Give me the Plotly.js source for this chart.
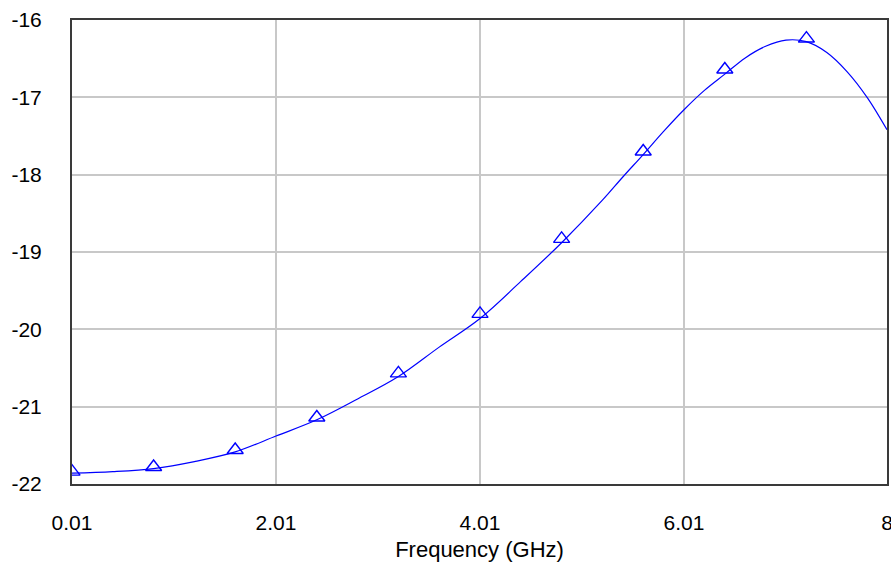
<!DOCTYPE html>
<html>
<head>
<meta charset="utf-8">
<script src="https://cdn.plot.ly/plotly-3.0.1.min.js"></script>
<style>html,body{margin:0;padding:0;background:#fff;}#chart{width:891px;height:562px;}</style>
</head>
<body>
<div id="chart"></div>
<script>
// Curve samples (GHz, dB)
const freq = [0.01, 0.41, 0.81, 1.21, 1.61, 2.01, 2.41, 2.81, 3.21, 3.61, 4.01, 4.41, 4.81, 5.21, 5.41, 5.61, 5.81, 6.01, 6.21, 6.41, 6.61, 6.81, 7.01, 7.21, 7.41, 7.61, 7.81, 8.0];
const s21 = [-21.86, -21.84, -21.80, -21.71, -21.585, -21.38, -21.17, -20.90, -20.61, -20.23, -19.86, -19.38, -18.88, -18.33, -18.03, -17.74, -17.44, -17.16, -16.91, -16.70, -16.49, -16.34, -16.26, -16.28, -16.42, -16.67, -17.01, -17.42];
// Marker samples
const markerFreq = [0.01, 0.81, 1.61, 2.41, 3.21, 4.01, 4.81, 5.61, 6.41, 7.21];
const markerVal = [-21.84, -21.78, -21.56, -21.14, -20.57, -19.80, -18.83, -17.70, -16.64, -16.24];
// Tick labels
const xTickVals = [0.01, 2.01, 4.01, 6.01, 8];
const xTickText = ["0.01", "2.01", "4.01", "6.01", "8"];
const yTickVals = [-22, -21, -20, -19, -18, -17, -16];
const yTickText = ["-22", "-21", "-20", "-19", "-18", "-17", "-16"];
const xTitle = "Frequency (GHz)";

const fontFam = '"Liberation Sans", Arial, sans-serif';
const traces = [
  {x: freq, y: s21, type: 'scatter', mode: 'lines', line: {color: '#0000ff', width: 1.2, shape: 'spline', smoothing: 1}, hoverinfo: 'skip'},
  {x: markerFreq, y: markerVal, type: 'scatter', mode: 'markers', marker: {symbol: 'triangle-up-open', size: 14, color: '#0000ff', line: {width: 1.4, color: '#0000ff'}}, cliponaxis: true}
];
const layout = {
  width: 891, height: 562,
  margin: {l: 72, r: 4, t: 20, b: 78},
  paper_bgcolor: '#ffffff', plot_bgcolor: '#ffffff',
  showlegend: false,
  font: {family: fontFam, size: 21, color: '#000'},
  xaxis: {
    range: [0.01, 8.00001], tickvals: xTickVals, ticktext: xTickText,
    showgrid: true, gridcolor: '#c8c8c8', gridwidth: 2,
    showline: true, mirror: true, linecolor: '#3a3a3a', linewidth: 2,
    ticks: 'outside', ticklen: 19, tickcolor: 'rgba(0,0,0,0)',
    ticklabeloverflow: 'allow',
    zeroline: false,
    tickfont: {family: fontFam, size: 21, color: '#000'},
    title: {text: xTitle, font: {family: fontFam, size: 22, color: '#000'}, standoff: 8}
  },
  yaxis: {
    range: [-22, -16], tickvals: yTickVals, ticktext: yTickText,
    showgrid: true, gridcolor: '#c8c8c8', gridwidth: 2,
    showline: true, mirror: true, linecolor: '#3a3a3a', linewidth: 2,
    ticks: 'outside', ticklen: 24, tickcolor: 'rgba(0,0,0,0)',
    zeroline: false,
    tickfont: {family: fontFam, size: 21, color: '#000'}
  }
};
Plotly.newPlot('chart', traces, layout, {staticPlot: true, displayModeBar: false});
</script>
</body>
</html>
